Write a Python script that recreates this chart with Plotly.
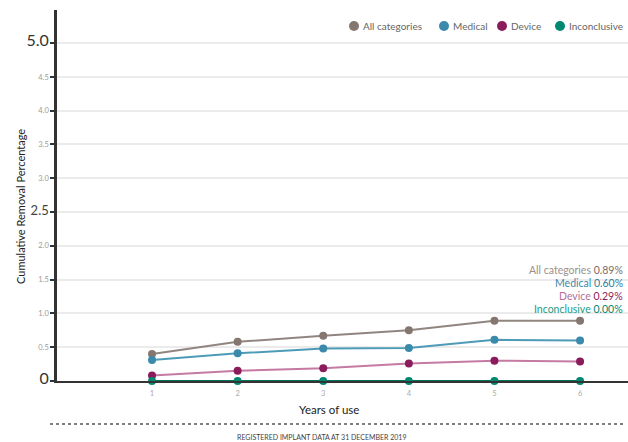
import plotly.graph_objects as go

years = [1, 2, 3, 4, 5, 6]
series_names = ["All categories", "Medical", "Device", "Inconclusive"]
all_categories = [0.40, 0.58, 0.67, 0.75, 0.89, 0.89]
medical = [0.31, 0.41, 0.48, 0.49, 0.61, 0.60]
device = [0.08, 0.15, 0.19, 0.26, 0.30, 0.29]
inconclusive = [0.00, 0.00, 0.00, 0.00, 0.00, 0.00]
final_values = [0.89, 0.60, 0.29, 0.00]
y_tick_vals = [0, 0.5, 1.0, 1.5, 2.0, 2.5, 3.0, 3.5, 4.0, 4.5, 5.0]
y_tick_text = ["0", "0.5", "1.0", "1.5", "2.0", "2.5", "3.0", "3.5", "4.0", "4.5", "5.0"]

series_values = [all_categories, medical, device, inconclusive]
marker_colors = ["#857770", "#3b89ab", "#8a1c5c", "#00876f"]
line_colors = ["#918580", "#4d9bb6", "#c47aa3", "#00705d"]
label_colors = ["#9a918c", "#3b89ab", "#b86e98", "#1b9c86"]
value_colors = ["#7a6c66", "#2f7da0", "#8a1c5c", "#00876f"]

L, T, W, H = 57, 10, 571, 371  # plot area in px
FONT = "Lato"


def px_x(px):
    return (px - L) / W


def px_y(py):
    return (T + H - py) / H


fig = go.Figure()
for name, vals, mc, lc in zip(series_names, series_values, marker_colors, line_colors):
    fig.add_trace(go.Scatter(
        x=years, y=vals, mode="lines+markers", name=name,
        line=dict(color=lc, width=2),
        marker=dict(color=mc, size=8),
        cliponaxis=False, showlegend=False,
    ))


def fmt_tick(t):
    if t == "5.0":
        return '<span style="font-size:16px;fill:#333333">5.0</span>'
    if t == "0":
        return '<span style="font-size:16px;fill:#333333">0</span>'
    if t == "2.5":
        return '<span style="font-size:13px;fill:#444444">2.5</span>'
    return t


fig.update_layout(
    width=628, height=442,
    margin=dict(l=L, r=0, t=T, b=442 - T - H),
    paper_bgcolor="white", plot_bgcolor="white",
    font=dict(family=FONT, color="#333333"),
    showlegend=False,
    xaxis=dict(
        range=[-0.11, 6.56], tickvals=years, ticktext=[str(y) for y in years],
        showgrid=False, zeroline=False, showline=True, linecolor="#333333",
        linewidth=2, ticks="", tickfont=dict(size=7.5, color="#aaaaaa"),
        ticklabelstandoff=4,
    ),
    yaxis=dict(
        range=[0, 5.49], tickvals=y_tick_vals,
        ticktext=[fmt_tick(t) for t in y_tick_text],
        showgrid=True, gridcolor="#ebebeb", gridwidth=1.5,
        zeroline=False, showline=True, linecolor="#333333", linewidth=2.5,
        ticks="outside", ticklen=4, tickcolor="#333333", tickwidth=1.5,
        tickfont=dict(size=7.5, color="#999999"),
    ),
)

# legend built from circles + labels
legend_marker_px = [354, 444, 502, 560]
for name, mc, mx in zip(series_names, marker_colors, legend_marker_px):
    fig.add_shape(
        type="circle", xref="paper", yref="paper",
        xsizemode="pixel", ysizemode="pixel",
        xanchor=px_x(mx), yanchor=px_y(26),
        x0=-5, x1=5, y0=-5, y1=5,
        fillcolor=mc, line=dict(width=0),
    )
    fig.add_annotation(
        xref="paper", yref="paper", x=px_x(mx + 7), y=px_y(26),
        xanchor="left", yanchor="middle", showarrow=False,
        text=name, font=dict(size=10, color="#666666"),
    )

label_py = [270, 283, 296, 309]
for name, v, py, lc, vc in zip(series_names, final_values, label_py, label_colors, value_colors):
    fig.add_annotation(
        xref="paper", yref="paper", x=px_x(625), y=px_y(py),
        xanchor="right", yanchor="middle", showarrow=False,
        text=f'<span style="color:{lc}">{name}</span> <span style="color:{vc}">{v:.2f}%</span>',
        font=dict(size=10.5),
    )

fig.add_annotation(
    xref="paper", yref="paper", x=px_x(329), y=px_y(410),
    xanchor="center", yanchor="middle",
    showarrow=False, text="Years of use", font=dict(size=11.5, color="#222222"),
)
fig.add_annotation(
    xref="paper", yref="paper", x=px_x(20), y=px_y(207),
    xanchor="center", yanchor="middle", textangle=-90,
    showarrow=False, text="Cumulative Removal Percentage",
    font=dict(size=11, color="#222222"),
)
fig.add_annotation(
    xref="paper", yref="paper", x=px_x(321), y=px_y(437),
    xanchor="center", yanchor="middle", showarrow=False,
    text="REGISTERED IMPLANT DATA AT 31 DECEMBER 2019",
    font=dict(size=7, color="#444444"),
)
fig.add_shape(
    type="line", xref="paper", yref="paper",
    x0=px_x(50), x1=px_x(625), y0=px_y(424), y1=px_y(424),
    line=dict(color="#555555", width=1.5, dash="dot"),
)

fig.write_html(
    "out.html",
    config={"displayModeBar": False},
    post_script="document.body.style.margin='0';document.body.style.overflow='hidden';",
)
